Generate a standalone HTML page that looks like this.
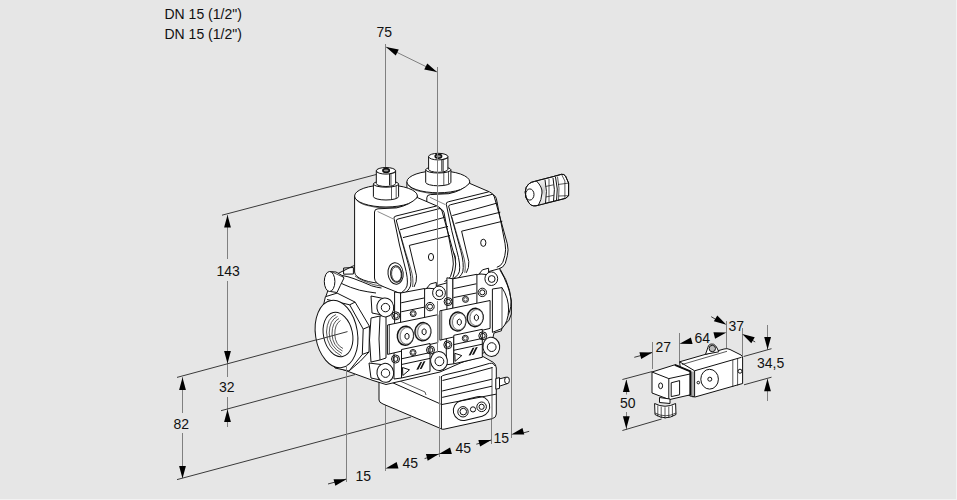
<!DOCTYPE html>
<html><head><meta charset="utf-8">
<style>
html,body{margin:0;padding:0;background:#e6e6e6;}
body{width:957px;height:500px;overflow:hidden;position:relative;}
svg{position:absolute;left:0;top:0;}
text{font-family:"Liberation Sans",sans-serif;font-size:14px;fill:#111;}
.d{stroke:#808080;stroke-width:1;fill:none;}
.e{stroke:#3a3a3a;stroke-width:1;fill:none;}
.a{fill:#000;stroke:none;}
.k{stroke:#111;stroke-width:1;fill:#fff;stroke-linejoin:round;}
.l{stroke:#111;stroke-width:1;fill:none;}
.t{stroke:#111;stroke-width:.7;fill:none;}
</style></head><body>
<svg width="957" height="500" viewBox="0 0 957 500">
<!-- header text -->
<text x="164.5" y="19">DN 15 (1/2")</text>
<text x="164.5" y="39">DN 15 (1/2")</text>
<!-- 75 dimension -->
<text x="376.5" y="37">75</text>
<path class="d" d="M385.5 44V168"/>
<path class="d" d="M386 47L437 72"/>
<!-- 143 / 32 vertical -->
<path class="d" d="M227.5 215V259M227.5 281V377M227.5 397V427"/>
<text x="216.5" y="276">143</text>
<text x="219" y="392">32</text>
<path class="e" d="M222 215.2L380 173.5"/>
<path class="e" d="M177 377.4L338 334"/>
<path class="e" d="M221 410.7L355 374.6"/>
<path class="e" d="M177 479.6L411 417"/>
<!-- 82 -->
<path class="d" d="M182.5 377V413M182.5 433V479"/>
<text x="173.5" y="428.5">82</text>
<!-- bottom dims 15 45 45 15 -->
<path class="d" d="M385.5 400V471M491.5 419V444M511.5 300V438"/>
<path class="e" d="M328 484L346 479.1"/>
<text x="355.5" y="480.5">15</text>
<text x="402.5" y="467.5">45</text>
<path class="e" d="M424.6 458.6L438.9 454"/>
<text x="455.5" y="453.3">45</text>
<path class="e" d="M476.3 444.2L491.3 440"/>
<text x="493.5" y="442.5">15</text>
<path class="e" d="M523 433L529.2 431.3"/>
<!-- bottom module -->
<g id="botmod">
  <path class="k" d="M379 378L379 400Q379 402.5 383 404L440.6 428.5Q442 429.6 444 429.2L492.5 418.6Q496.3 417.5 496.3 414V368Q496 364.5 493.5 362.5L483 356.5L440 368Z"/>
  <path class="l" d="M441.4 376V429"/>
  <path class="l" d="M387.8 380.6L440.6 404"/>
  <path class="t" d="M400 381L425 392L426 395"/>
  <path class="l" d="M440.8 377.5Q442 375.2 446 374.6Q470 369.5 489.5 363.4Q493.5 362.6 495 366"/>
  <path class="l" d="M442.5 380.5Q468 374.5 492.5 367.5"/>
  <path class="l" d="M442.2 391L492 379.2"/>
  <path class="l" d="M442.2 397.4L492 386.2"/>
  <path class="l" d="M441.4 404.6L496 394.2" stroke-width="1.4"/>
  <path class="t" d="M492 367V418"/>
  <!-- oval recess -->
  <rect class="l" x="453" y="398.5" width="37" height="20" rx="10" transform="rotate(-14 471.5 408.5)" stroke-width="1.1"/>
  <circle class="l" cx="463" cy="411.8" r="5.2" stroke-width="1.2"/>
  <circle class="l" cx="463.3" cy="411.6" r="3.3"/>
  <circle class="l" cx="473" cy="409.4" r="2.6"/>
  <circle class="l" cx="481.6" cy="406.8" r="4.8" stroke-width="1.5"/>
  <circle class="l" cx="481.6" cy="406.8" r="2.6" stroke-width="1.3"/>
  <!-- nipple -->
  <path class="k" d="M497 379.5L506 377.2L507.5 383.5L498.5 386.5Z"/>
  <ellipse class="k" cx="507" cy="380.4" rx="2.4" ry="3.4"/>
  <path class="k" d="M495.8 378.5L499.5 377.6V388.4L495.8 389.2Z"/>
</g>

<!-- central body silhouette -->
<path class="k" d="M333 276L353 266L498 230L500 270Q509 285 511.2 300Q511.5 314 503 322L501.4 330.8L494 333L490 350L440 372L386 384.5L373 380.5L340 368.5L330 330L326 296Z"/>
<!-- right outlet curves -->
<path class="l" d="M500.4 269.6Q506.5 279 509.5 290.4Q512.2 302 511.3 314Q510 321 505 324.5L502 327"/>
<path class="k" d="M492.4 289L502 287.6Q508.8 298 508.6 310Q508.2 322 502 328.5L492.4 332.4Z"/>
<path class="t" d="M502 287.6V328.5"/>
<!-- body top surface curve (left) -->
<path class="l" d="M334.8 278.7Q338 281 343 284.2Q350 287.5 359.5 290.2Q368 292 376 293"/>
<path class="l" d="M341.9 275.4Q348 276.5 354 278.7Q363 282 371.6 285.8Q377 287.5 381.5 288"/>
<path class="t" d="M355 276Q360 280.3 373.8 284.7Q379 286 384.8 286.4"/>
<path class="l" d="M343.6 268L353.4 267.5V274L343.6 274.2Z"/>
<g transform="translate(52.3 -14.2)">
  <!-- coil cylinder -->
  <path class="k" d="M354.6 196V272A31.4 11.5 0 0 0 417.4 272V196Z"/>
  <ellipse class="k" cx="386" cy="196" rx="31.4" ry="11"/>
  <path class="t" d="M356 199A31 10.5 0 0 0 417 199.5"/>
  <!-- knob nut -->
  <path class="k" d="M373.4 184V196.5A12.6 3.5 0 0 0 398.6 196.5V184Z"/>
  <ellipse class="k" cx="386" cy="184" rx="12.6" ry="3.2"/>
  <path class="t" d="M391.5 186.5V199.5M396.2 186V198"/>
  <!-- knob upper -->
  <path class="k" d="M376.3 170.8V183.5A9.65 3 0 0 0 395.6 183.5V170.8Z"/>
  <ellipse class="k" cx="385.95" cy="170.8" rx="9.65" ry="3.3"/>
  <path class="l" d="M389.6 173.8V185.5"/><path class="t" d="M391 173.6V185.3M389.6 173.8L395.6 172.4"/>
  <ellipse cx="386.1" cy="170.5" rx="3.2" ry="1.9" fill="#999" stroke="#111" stroke-width="1.6"/>

  <!-- side face + top + front silhouette -->
  <path class="k" d="M374.5 212Q374.5 209 378 208.8L396.5 207.9Q410 205 417.2 197.5L437 206Q441 207.5 442 211L455 258Q456.5 264 455 270L453 277.5Q451 282 446.5 283L410 293Q404 294.5 399 293L383 286.5Q374.5 283 374.5 278Z"/>
  <!-- top face inner edge -->
  <path d="M377.6 211.5L393 218.8" style="stroke:#8a8a8a;fill:none;stroke-width:1"/>
  <!-- front face frame -->
  <path class="l" d="M394 218.5Q393.5 216.5 396 216L436.5 206"/>
  <path class="l" d="M396.4 221Q396 219.5 398 219L440 208.5"/>
  <path class="l" d="M394 218.5L399.5 245L404.5 265Q408.5 279 407 286Q404.5 292 399 293.5"/>
  <path class="l" d="M396.4 220.8L403 245L408.5 265Q412 278 410.5 286Q408 292 403 293.5"/>
  <path class="t" d="M399.5 231L405.5 252L410.5 268Q414 279 412.5 287"/>
  <!-- bands -->
  <path class="l" d="M400 229.8L445 217.2"/>
  <path class="l" d="M403 237.6L448 226.4"/>
  <!-- inner panel -->
  <path class="l" d="M409.3 245.4L450 235.5"/>
  <path class="l" d="M409.3 245.4L416.5 275.8Q417 282 414 287"/>
  <ellipse class="l" cx="431" cy="257" rx="2.6" ry="3.6"/>
  <!-- right edge inner -->
  <path class="l" d="M440 208.5Q443 209.5 444 212.5L452.8 258Q454 264 452.5 270L450.5 276.5Q448.5 280.5 444.5 281.5"/>
  <!-- side port -->
  <ellipse class="l" cx="395.6" cy="273.4" rx="7.6" ry="10.8" stroke-width="1.6" transform="rotate(-6 395.6 273.4)"/>
  <ellipse class="l" cx="396.2" cy="274" rx="5.6" ry="8.3" transform="rotate(-6 396.2 274)"/>
  <ellipse class="t" cx="396.4" cy="274.2" rx="4.8" ry="7.3" transform="rotate(-6 396.4 274.2)"/>
  <!-- tab -->
  <path class="k" d="M426.9 288L430.2 284L436.3 282.4V289Z"/>
</g>
<g>
  <!-- coil cylinder -->
  <path class="k" d="M354.6 196V272A31.4 11.5 0 0 0 417.4 272V196Z"/>
  <ellipse class="k" cx="386" cy="196" rx="31.4" ry="11"/>
  <path class="t" d="M356 199A31 10.5 0 0 0 417 199.5"/>
  <!-- knob nut -->
  <path class="k" d="M373.4 184V196.5A12.6 3.5 0 0 0 398.6 196.5V184Z"/>
  <ellipse class="k" cx="386" cy="184" rx="12.6" ry="3.2"/>
  <path class="t" d="M391.5 186.5V199.5M396.2 186V198"/>
  <!-- knob upper -->
  <path class="k" d="M376.3 170.8V183.5A9.65 3 0 0 0 395.6 183.5V170.8Z"/>
  <ellipse class="k" cx="385.95" cy="170.8" rx="9.65" ry="3.3"/>
  <path class="l" d="M389.6 173.8V185.5"/><path class="t" d="M391 173.6V185.3M389.6 173.8L395.6 172.4"/>
  <ellipse cx="386.1" cy="170.5" rx="3.2" ry="1.9" fill="#999" stroke="#111" stroke-width="1.6"/>

  <!-- side face + top + front silhouette -->
  <path class="k" d="M374.5 212Q374.5 209 378 208.8L396.5 207.9Q410 205 417.2 197.5L437 206Q441 207.5 442 211L455 258Q456.5 264 455 270L453 277.5Q451 282 446.5 283L410 293Q404 294.5 399 293L383 286.5Q374.5 283 374.5 278Z"/>
  <!-- top face inner edge -->
  <path d="M377.6 211.5L393 218.8" style="stroke:#8a8a8a;fill:none;stroke-width:1"/>
  <!-- front face frame -->
  <path class="l" d="M394 218.5Q393.5 216.5 396 216L436.5 206"/>
  <path class="l" d="M396.4 221Q396 219.5 398 219L440 208.5"/>
  <path class="l" d="M394 218.5L399.5 245L404.5 265Q408.5 279 407 286Q404.5 292 399 293.5"/>
  <path class="l" d="M396.4 220.8L403 245L408.5 265Q412 278 410.5 286Q408 292 403 293.5"/>
  <path class="t" d="M399.5 231L405.5 252L410.5 268Q414 279 412.5 287"/>
  <!-- bands -->
  <path class="l" d="M400 229.8L445 217.2"/>
  <path class="l" d="M403 237.6L448 226.4"/>
  <!-- inner panel -->
  <path class="l" d="M409.3 245.4L450 235.5"/>
  <path class="l" d="M409.3 245.4L416.5 275.8Q417 282 414 287"/>
  <ellipse class="l" cx="431" cy="257" rx="2.6" ry="3.6"/>
  <!-- right edge inner -->
  <path class="l" d="M440 208.5Q443 209.5 444 212.5L452.8 258Q454 264 452.5 270L450.5 276.5Q448.5 280.5 444.5 281.5"/>
  <!-- side port -->
  <ellipse class="l" cx="395.6" cy="273.4" rx="7.6" ry="10.8" stroke-width="1.6" transform="rotate(-6 395.6 273.4)"/>
  <ellipse class="l" cx="396.2" cy="274" rx="5.6" ry="8.3" transform="rotate(-6 396.2 274)"/>
  <ellipse class="t" cx="396.4" cy="274.2" rx="4.8" ry="7.3" transform="rotate(-6 396.4 274.2)"/>
  <!-- tab -->
  <path class="k" d="M426.9 288L430.2 284L436.3 282.4V289Z"/>
</g>
<g transform="translate(52.3 -14.2)">
  <!-- left plate -->
  <path class="k" d="M394.6 292V324.5L400.6 323.5V293Z"/>
  <path class="k" d="M394 350.5V379L401.5 378V349.5Z"/>
  <!-- upper block -->
  <path class="k" d="M400.6 293L424.6 288.5V318.8L400.6 323.5Z"/>
  <path class="l" d="M401.2 302.8L424 298M401.2 311.8L424 307.2"/>
  <circle class="l" cx="413.2" cy="313.6" r="3"/>
  <circle class="t" cx="413.2" cy="313.6" r="1.8"/>
  <!-- screws -->
  <circle class="l" cx="395.8" cy="315.8" r="4" stroke-width="1.4"/>
  <circle class="l" cx="395.8" cy="315.8" r="2.4"/>
  <circle class="l" cx="430" cy="306.6" r="4.2" stroke-width="1.4"/>
  <circle class="l" cx="430" cy="306.6" r="2.5"/>
  <!-- middle slab -->
  <path class="k" d="M387.6 325L437.8 314.7V342.6L387.6 354.4Z"/>
  <path class="t" d="M389.4 324.8V354"/>
  <ellipse cx="405.4" cy="335.7" rx="8.1" ry="9.5" fill="#d8d8d8" stroke="#111" stroke-width="1.4" transform="rotate(8 405.4 335.7)"/>
  <ellipse cx="406.8" cy="335.8" rx="6.6" ry="8.4" fill="#fff" stroke="#333" stroke-width=".6" transform="rotate(8 406.8 335.8)"/>
  <path class="l" d="M407.00 339.40L405.01 337.85L405.01 334.75L407.00 333.20L408.99 334.75L408.99 337.85Z"/>
  <ellipse cx="422.9" cy="331.7" rx="8" ry="9.2" fill="#d8d8d8" stroke="#111" stroke-width="1.4" transform="rotate(8 422.9 331.7)"/>
  <ellipse cx="424.2" cy="331.8" rx="6.5" ry="8.1" fill="#fff" stroke="#333" stroke-width=".6" transform="rotate(8 424.2 331.8)"/>
  <path class="l" d="M424.10 334.90L422.11 333.35L422.11 330.25L424.10 328.70L426.09 330.25L426.09 333.35Z"/>
  <!-- lower block -->
  <path class="k" d="M401.5 349.5L430 343.5V371.5L401.5 378Z"/>
  <path class="l" d="M401.5 358.8L430 352.6M401.5 364.5L430 358.4"/>
  <circle class="l" cx="413" cy="352.5" r="3"/>
  <circle class="t" cx="413" cy="352.5" r="1.8"/>
  <path class="l" d="M402.5 367.5L409.5 369.8L402.8 375.5Z"/>
  <path d="M416.3 369.8L420.2 362.2L422.2 361.8L418.4 369.4ZM419.6 369.2L423.5 361.5L425.5 361.1L421.7 368.7Z" fill="#111"/>
  <circle class="l" cx="395.5" cy="359" r="4" stroke-width="1.4"/>
  <circle class="l" cx="395.5" cy="359" r="2.4"/>
  <circle class="l" cx="430.5" cy="350" r="4" stroke-width="1.4"/>
  <circle class="l" cx="430.5" cy="350" r="2.4"/>
  <!-- lower right boss -->
  <ellipse class="k" cx="439" cy="361" rx="8.4" ry="9.6" stroke-width="1.9" transform="rotate(-8 439 361)"/>
  <circle class="l" cx="439.4" cy="361.3" r="4.4"/>
  <!-- screw under plug tab -->
  <ellipse class="k" cx="439" cy="292.9" rx="6.4" ry="6.8" stroke-width="1.6"/>
  <circle class="l" cx="439.4" cy="293.2" r="3.4"/>
</g>
<g>
  <!-- left plate -->
  <path class="k" d="M394.6 292V324.5L400.6 323.5V293Z"/>
  <path class="k" d="M394 350.5V379L401.5 378V349.5Z"/>
  <!-- upper block -->
  <path class="k" d="M400.6 293L424.6 288.5V318.8L400.6 323.5Z"/>
  <path class="l" d="M401.2 302.8L424 298M401.2 311.8L424 307.2"/>
  <circle class="l" cx="413.2" cy="313.6" r="3"/>
  <circle class="t" cx="413.2" cy="313.6" r="1.8"/>
  <!-- screws -->
  <circle class="l" cx="395.8" cy="315.8" r="4" stroke-width="1.4"/>
  <circle class="l" cx="395.8" cy="315.8" r="2.4"/>
  <circle class="l" cx="430" cy="306.6" r="4.2" stroke-width="1.4"/>
  <circle class="l" cx="430" cy="306.6" r="2.5"/>
  <!-- middle slab -->
  <path class="k" d="M387.6 325L437.8 314.7V342.6L387.6 354.4Z"/>
  <path class="t" d="M389.4 324.8V354"/>
  <ellipse cx="405.4" cy="335.7" rx="8.1" ry="9.5" fill="#d8d8d8" stroke="#111" stroke-width="1.4" transform="rotate(8 405.4 335.7)"/>
  <ellipse cx="406.8" cy="335.8" rx="6.6" ry="8.4" fill="#fff" stroke="#333" stroke-width=".6" transform="rotate(8 406.8 335.8)"/>
  <path class="l" d="M407.00 339.40L405.01 337.85L405.01 334.75L407.00 333.20L408.99 334.75L408.99 337.85Z"/>
  <ellipse cx="422.9" cy="331.7" rx="8" ry="9.2" fill="#d8d8d8" stroke="#111" stroke-width="1.4" transform="rotate(8 422.9 331.7)"/>
  <ellipse cx="424.2" cy="331.8" rx="6.5" ry="8.1" fill="#fff" stroke="#333" stroke-width=".6" transform="rotate(8 424.2 331.8)"/>
  <path class="l" d="M424.10 334.90L422.11 333.35L422.11 330.25L424.10 328.70L426.09 330.25L426.09 333.35Z"/>
  <!-- lower block -->
  <path class="k" d="M401.5 349.5L430 343.5V371.5L401.5 378Z"/>
  <path class="l" d="M401.5 358.8L430 352.6M401.5 364.5L430 358.4"/>
  <circle class="l" cx="413" cy="352.5" r="3"/>
  <circle class="t" cx="413" cy="352.5" r="1.8"/>
  <path class="l" d="M402.5 367.5L409.5 369.8L402.8 375.5Z"/>
  <path d="M416.3 369.8L420.2 362.2L422.2 361.8L418.4 369.4ZM419.6 369.2L423.5 361.5L425.5 361.1L421.7 368.7Z" fill="#111"/>
  <circle class="l" cx="395.5" cy="359" r="4" stroke-width="1.4"/>
  <circle class="l" cx="395.5" cy="359" r="2.4"/>
  <circle class="l" cx="430.5" cy="350" r="4" stroke-width="1.4"/>
  <circle class="l" cx="430.5" cy="350" r="2.4"/>
  <!-- lower right boss -->
  <ellipse class="k" cx="439" cy="361" rx="8.4" ry="9.6" stroke-width="1.9" transform="rotate(-8 439 361)"/>
  <circle class="l" cx="439.4" cy="361.3" r="4.4"/>
  <!-- screw under plug tab -->
  <ellipse class="k" cx="439" cy="292.9" rx="6.4" ry="6.8" stroke-width="1.6"/>
  <circle class="l" cx="439.4" cy="293.2" r="3.4"/>
</g>
<!-- hex nut behind flange -->
<path class="k" d="M325.4 296.7L337.1 293.1L355.1 302.1L369.5 326.4L369 352L360.5 361L349 371L335 368L318 330Z"/>
<path class="l" d="M327 299.5L349.7 304.8L363.2 329.1L362.3 354.4L349 371"/>
<path class="l" d="M349.7 304.8L355.1 302.1M363.2 329.1L369.5 326.4M362.3 354.4L369 352"/>
<!-- inlet flange ring -->
<ellipse class="k" cx="336.5" cy="334" rx="21" ry="34" transform="rotate(-9 336.5 334)" stroke-width="1.2"/>
<ellipse class="k" cx="338" cy="334.5" rx="14.5" ry="22.5" transform="rotate(-12 338 334.5)" stroke-width="1.2"/>
<g class="t">
<path d="M336 314.5Q327 318 326.5 332Q326.5 348 341.5 356"/>
<path d="M337.5 316.5Q329.5 320 329.2 333Q329.5 347 342 353.5"/>
<path d="M339 318.5Q332 322 332 334Q332.5 346 342.5 351"/>
<path d="M340.5 320.5Q334.5 324 334.8 335Q335.5 345 343 348.5"/>
</g>
<path class="e" d="M316 340.2L347.5 331.6"/>
<!-- left side slab between nut and front -->
<path class="k" d="M371 318Q368 340 371 362L380 360Q378 340 380 316Z"/>
<path class="l" d="M380 316L386 315V358L380 360"/>
<!-- left boss (upper left, toward back) -->
<path class="k" d="M330 271.6Q336 270.5 341.9 275.4L344 278Q340 286 337 292.5L330.4 291.5Z"/>
<ellipse class="k" cx="329.6" cy="281.5" rx="5.3" ry="10"/>
<path class="t" d="M332 272L344 277.5"/>
<!-- upper left boss front -->
<path class="k" d="M371 296L383 298.4L387 316L372 313Z"/>
<ellipse class="k" cx="385.3" cy="307.4" rx="8.4" ry="9.5" stroke-width="1.9" transform="rotate(-8 385.3 307.4)"/>
<circle class="l" cx="385.5" cy="307.6" r="4.2"/>
<!-- lower left boss -->
<path class="k" d="M369 363L381 364.5L385 381L371 378Z"/>
<ellipse class="k" cx="385.3" cy="372.8" rx="8.4" ry="9.5" stroke-width="1.9" transform="rotate(-8 385.3 372.8)"/>
<circle class="l" cx="385.5" cy="373.2" r="4.2"/>
<path class="d" d="M437.5 67V285.5M437.5 301V352.5M439.5 376V457"/>
<path class="d" d="M346.5 365V482"/>
<!-- ===== cable gland (loose) ===== -->
<defs><linearGradient id="kn" x1="0" y1="0" x2="0" y2="1">
<stop offset="0" stop-color="#f4f4f4"/><stop offset=".45" stop-color="#c8c8c8"/><stop offset=".7" stop-color="#eee"/><stop offset="1" stop-color="#ddd"/></linearGradient></defs>
<g>
  <path class="k" d="M534.6 181.4L553.9 176.4L561.5 174.3Q564 174 565.5 176L568.6 183.1V195.7L565.7 198.3L536 205.8Q531 206.5 528.7 202.5Q525 198 525.2 192Q525.5 186.5 528.7 184Q531 182 534.6 181.4Z"/>
  <path d="M538 181L545 179.6V203.5L539 205Q542 199 542 193Q542 186 538 181Z" fill="url(#kn)"/>
  <path class="l" d="M536.5 181Q542.5 187 542 193Q541.5 200 538.5 205"/>
  <ellipse class="l" cx="529.8" cy="194.5" rx="4.2" ry="5.6"/>
  <path class="l" d="M545 179.6Q547.5 191 545.5 203.5M553 177.8Q555.5 189.5 553.5 201.5"/>
  <path class="t" d="M549 178.8V203M557.5 176.6Q560 188 558.5 200.5M561.5 174.3L564.9 181V198M558 184.5L568.6 183.1M558.5 196L568.6 195.7M545.5 186.5L553.5 184.8M545.8 197L553.8 195.3"/>
  <path class="l" d="M555.5 177Q558.5 189 556.5 201" stroke-width="1.4"/>
  <path class="l" fill="none" d="M534.6 181.4L553.9 176.4L561.5 174.3Q564 174 565.5 176L568.6 183.1V195.7L565.7 198.3L536 205.8Q531 206.5 528.7 202.5Q525 198 525.2 192Q525.5 186.5 528.7 184Q531 182 534.6 181.4Z"/>
</g>
<!-- ===== right actuator ===== -->
<!-- dims -->
<path class="d" d="M652.5 342V369M679.5 333V362M726.5 321V348M742.5 328V356M767.5 325V350M767.5 379V401M626.5 394V380M626.5 412V430"/>
<path class="d" d="M626.5 380V394.5M626.5 412V429"/>
<path class="e" d="M634.3 357.3L652 352.5"/>
<text x="655.5" y="352">27</text>
<text x="694.5" y="342.8">64</text>
<path class="e" d="M711.2 316.7L716 319.5"/>
<text x="728.5" y="330.8">37</text>
<path class="e" d="M751 339.5L755.2 342"/>
<path class="e" d="M743.6 356.5L771.5 348.7M744 384.8L771.5 377.2"/>
<text x="757" y="367.7">34,5</text>
<path class="e" d="M622.4 379.5L652 371.6M622.4 430.5L661.6 419"/>
<text x="620" y="407.8">50</text>

<!-- housing -->
<path class="k" d="M679.6 361.8L724 349Q727 348 730 349.5L741 355Q742.6 356 742.6 358V383.5L695 397L689 395.5L683 391Z"/>
<path class="l" d="M694.6 370.8L741.5 357.3"/>
<path class="t" d="M682 364.5L727 351.3"/>
<path class="l" d="M694.6 370.8V396.8"/>
<path class="l" d="M679.6 361.8L694.6 370.8"/>
<path class="t" d="M732.8 360V387M737.6 358.5V385.5"/>
<circle class="l" cx="740" cy="371.2" r="2"/>
<ellipse class="l" cx="709.6" cy="379.2" rx="8.8" ry="9.9"/>
<circle class="l" cx="709.8" cy="379.2" r="2"/>
<circle class="l" cx="698.3" cy="382.6" r="1.3"/>
<path class="t" d="M691 372V397M693 371.5V397.5"/>
<!-- top bump -->
<path class="k" d="M705.5 354.3L708.6 345.5Q710.5 343.3 713.5 344.2Q716 345.5 717 348L718.8 351.8Z"/>
<circle cx="712.3" cy="348.5" r="3.2" fill="#bbb" stroke="#111" stroke-width="1"/>
<!-- connector box -->
<path class="k" d="M652 372L674.8 364.8L690.4 371.4V394.8L669.4 399.6L652 393Z"/>
<path class="l" d="M652 372L668.8 378.6L690 374M668.8 378.6V399.5"/>
<path d="M674.8 364.8L690.4 371.4V395" stroke="#111" stroke-width="2" fill="none"/>
<ellipse class="l" cx="660.6" cy="385.8" rx="2" ry="2.9"/>
<path class="l" d="M671.2 382.8L679.6 380.6V394.8L671.2 396.6Z"/>
<!-- gland under box -->
<path class="k" d="M659.5 397.5L670 399V403.5L659.5 402.5Z"/>
<path class="k" d="M654.6 403.5Q665 409 675.6 403.5L676 414.5Q665.5 421 655 414.5Z"/>
<path class="t" d="M657.8 405.5V416.5M661.2 406.8V418M665 407.3V418.6M668.8 406.8V418M672.4 405.5V416.5"/>
<path class="t" d="M655 413Q665.5 418.5 676 413"/>

<path class="a" d="M386.00 47.00L398.72 49.45L395.73 55.55Z"/>
<path class="a" d="M437.00 72.00L424.28 69.55L427.27 63.45Z"/>
<path class="a" d="M227.50 215.00L230.90 227.50L224.10 227.50Z"/>
<path class="a" d="M227.50 363.50L224.10 351.00L230.90 351.00Z"/>
<path class="a" d="M227.50 409.50L230.90 422.00L224.10 422.00Z"/>
<path class="a" d="M182.50 377.40L185.90 389.90L179.10 389.90Z"/>
<path class="a" d="M182.50 478.60L179.10 466.10L185.90 466.10Z"/>
<path class="a" d="M346.50 479.30L335.33 485.86L333.55 479.30Z"/>
<path class="a" d="M385.50 468.60L396.67 462.04L398.45 468.60Z"/>
<path class="a" d="M438.90 454.10L427.73 460.66L425.95 454.10Z"/>
<path class="a" d="M438.90 454.10L450.07 447.54L451.85 454.10Z"/>
<path class="a" d="M491.30 440.00L480.13 446.56L478.35 440.00Z"/>
<path class="a" d="M511.30 434.60L522.47 428.04L524.25 434.60Z"/>
<path class="a" d="M652.40 352.40L641.19 358.89L639.45 352.32Z"/>
<path class="a" d="M679.60 343.80L690.90 337.47L692.55 344.07Z"/>
<path class="a" d="M726.40 332.40L715.10 338.73L713.45 332.13Z"/>
<path class="a" d="M726.40 324.70L713.88 321.37L717.29 315.49Z"/>
<path class="a" d="M742.20 334.00L754.72 337.33L751.31 343.21Z"/>
<path class="a" d="M767.60 349.60L764.20 337.10L771.00 337.10Z"/>
<path class="a" d="M767.50 378.80L770.90 391.30L764.10 391.30Z"/>
<path class="a" d="M626.30 379.50L629.70 392.00L622.90 392.00Z"/>
<path class="a" d="M626.30 428.80L622.90 416.30L629.70 416.30Z"/>
<path d="M956.5 0V500M0 499.5H957" stroke="#f2f2f2" stroke-width="1"/>
</svg>
</body></html>
